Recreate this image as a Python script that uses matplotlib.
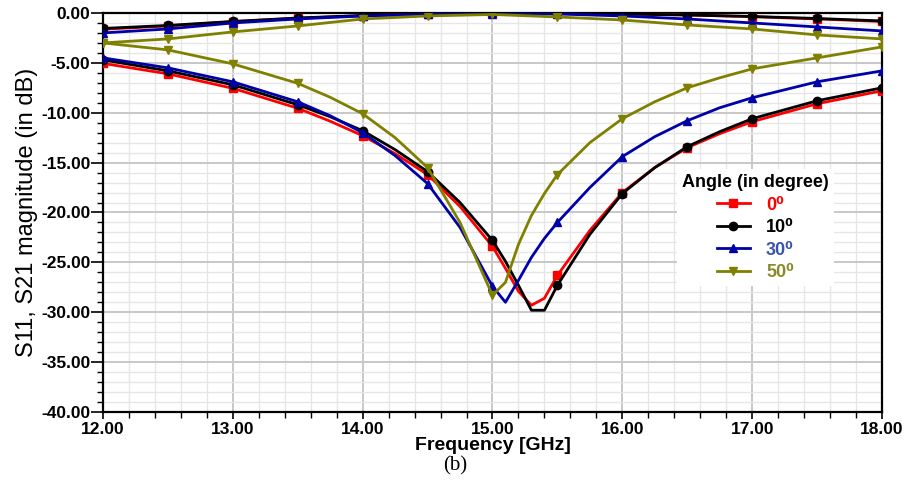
import matplotlib
matplotlib.use("Agg")
import matplotlib.pyplot as plt
from matplotlib.ticker import MultipleLocator, FormatStrFormatter

plt.rcParams['font.family'] = ['Liberation Sans', 'DejaVu Sans']

# ---- S11 (reflection) curves, one per incidence angle ----
f_s11_0 = [12.0, 12.5, 13.0, 13.5, 13.75, 14.0, 14.25, 14.5, 14.75, 15.0, 15.1, 15.2, 15.3,
           15.4, 15.5, 15.75, 16.0, 16.25, 16.5, 16.75, 17.0, 17.5, 18.0]
s11_0 = [-5.05, -6.1, -7.55, -9.55, -10.85, -12.3, -14.1, -16.2, -19.4, -23.4, -25.6, -27.9, -29.3,
         -28.6, -26.3, -21.8, -18.0, -15.5, -13.5, -12.1, -10.9, -9.1, -7.8]

f_s11_10 = [12.0, 12.5, 13.0, 13.5, 13.75, 14.0, 14.25, 14.5, 14.75, 15.0, 15.1, 15.2, 15.3,
            15.4, 15.5, 15.75, 16.0, 16.25, 16.5, 16.75, 17.0, 17.5, 18.0]
s11_10 = [-4.7, -5.8, -7.2, -9.2, -10.4, -11.8, -13.7, -15.9, -19.0, -22.8, -24.9, -27.3, -29.8,
          -29.8, -27.3, -22.2, -18.1, -15.5, -13.4, -11.9, -10.6, -8.8, -7.5]

f_s11_30 = [12.0, 12.5, 13.0, 13.5, 13.75, 14.0, 14.25, 14.5, 14.75, 15.0, 15.1, 15.2, 15.3,
            15.4, 15.5, 15.75, 16.0, 16.25, 16.5, 16.75, 17.0, 17.5, 18.0]
s11_30 = [-4.5, -5.5, -6.9, -8.9, -10.3, -12.0, -14.3, -17.1, -21.5, -27.4, -29.0, -26.8, -24.5,
          -22.6, -21.0, -17.5, -14.4, -12.4, -10.8, -9.5, -8.5, -6.9, -5.8]

f_s11_50 = [12.0, 12.5, 13.0, 13.5, 13.75, 14.0, 14.25, 14.5, 14.75, 15.0, 15.1, 15.2, 15.3,
            15.4, 15.5, 15.75, 16.0, 16.25, 16.5, 16.75, 17.0, 17.5, 18.0]
s11_50 = [-3.0, -3.7, -5.1, -7.05, -8.45, -10.1, -12.5, -15.5, -21.0, -28.3, -27.0, -23.2, -20.3,
          -18.1, -16.2, -13.0, -10.6, -8.9, -7.5, -6.5, -5.6, -4.5, -3.4]

# ---- S21 (transmission) curves ----
f_s21 = [12.0, 12.5, 13.0, 13.5, 14.0, 14.5, 15.0, 15.5, 16.0, 16.5, 17.0, 17.5, 18.0]
s21_0 = [-1.63, -1.3, -0.87, -0.53, -0.27, -0.12, -0.05, -0.05, -0.1, -0.2, -0.37, -0.6, -0.85]
s21_10 = [-1.55, -1.25, -0.85, -0.5, -0.25, -0.1, -0.05, -0.05, -0.1, -0.2, -0.35, -0.55, -0.8]
s21_30 = [-2.0, -1.6, -1.0, -0.6, -0.3, -0.15, -0.08, -0.1, -0.3, -0.6, -1.0, -1.4, -1.8]
s21_50 = [-3.0, -2.6, -1.9, -1.3, -0.6, -0.3, -0.15, -0.4, -0.7, -1.2, -1.6, -2.2, -2.6]

angle_labels = ['0\u2070', '10\u2070', '30\u2070', '50\u2070']
colors = ['#ff0000', '#000000', '#0000a8', '#808000']
text_colors = ['#ff0000', '#000000', '#3a56a6', '#8a8a2a']
markers = ['s', 'o', '^', 'v']


def half_ghz_marks(freq):
    return [i for i, f in enumerate(freq) if abs(f * 2 - round(f * 2)) < 1e-9]


fig = plt.figure(figsize=(9.12, 4.9), dpi=100)
ax = fig.add_axes([0.1129, 0.1592, 0.8542, 0.8143])

series = [
    (1, f_s11_10, s11_10, f_s21, s21_10),
    (2, f_s11_30, s11_30, f_s21, s21_30),
    (0, f_s11_0, s11_0, f_s21, s21_0),
    (3, f_s11_50, s11_50, f_s21, s21_50),
]
handles = [None] * 4
for k, fa, ya, fb, yb in series:
    kw = dict(color=colors[k], marker=markers[k], markersize=6, lw=2.0,
              markeredgecolor=colors[k], solid_joinstyle='round')
    h, = ax.plot(fa, ya, markevery=half_ghz_marks(fa), zorder=3 + k * 0.1, **kw)
    ax.plot(fb, yb, markevery=half_ghz_marks(fb), zorder=3 + k * 0.1, **kw)
    handles[k] = h

ax.set_xlim(12, 18)
ax.set_ylim(-40, 0)
ax.xaxis.set_major_locator(MultipleLocator(1))
ax.xaxis.set_minor_locator(MultipleLocator(0.2))
ax.yaxis.set_major_locator(MultipleLocator(5))
ax.yaxis.set_minor_locator(MultipleLocator(1))
ax.xaxis.set_major_formatter(FormatStrFormatter('%.2f'))
ax.yaxis.set_major_formatter(FormatStrFormatter('%.2f'))

ax.grid(which='major', color='#c8c8c8', lw=1.4, zorder=0)
ax.grid(which='minor', color='#e6e6e6', lw=1.0, zorder=0)
ax.set_axisbelow(True)

for s in ax.spines.values():
    s.set_linewidth(1.6)
    s.set_color('black')

ax.tick_params(axis='y', which='major', direction='out', length=9, width=1.2,
               labelsize=12.5, pad=0)
ax.tick_params(axis='y', which='minor', direction='out', length=4, width=1.0)
ax.tick_params(axis='x', which='major', direction='out', length=5, width=1.2,
               labelsize=12.5, pad=2)
ax.tick_params(axis='x', which='minor', direction='out', length=4, width=1.0)
for lab in ax.get_xticklabels() + ax.get_yticklabels():
    lab.set_fontweight('bold')

ax.set_xlabel('Frequency [GHz]', fontsize=14, fontweight='bold', labelpad=0)
ax.set_ylabel('S11, S21 magnitude (in dB)', fontsize=17, labelpad=2)

leg = ax.legend(handles, angle_labels, title='Angle (in degree)',
                loc='upper left', bbox_to_anchor=(0.725, 0.632), frameon=True,
                fontsize=13, title_fontsize=13, handlelength=1.8,
                labelspacing=0.3, borderpad=0.3, handletextpad=0.9)
leg._legend_box.align = 'center'
leg.get_frame().set_facecolor('white')
leg.get_frame().set_edgecolor('none')
leg.get_frame().set_alpha(1.0)
leg.get_title().set_fontweight('bold')
for t, c in zip(leg.get_texts(), text_colors):
    t.set_color(c)
    t.set_fontweight('bold')

fig.text(0.499, 0.05, '(b)', ha='center', va='center', fontsize=15,
         family=['Liberation Serif', 'DejaVu Serif'])

fig.savefig('out.png', dpi=100)
